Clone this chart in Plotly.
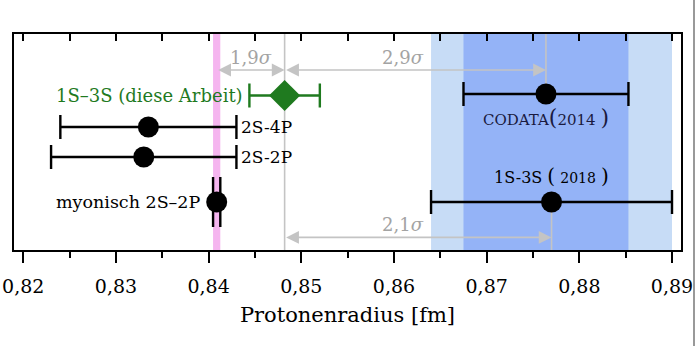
import plotly.graph_objects as go

# Proton radius determinations [fm]
labels = ["1S–3S (diese Arbeit)", "2S-4P", "2S-2P", "myonisch 2S–2P", "CODATA (2014)", "1S-3S (2018)"]
radius = [0.8482, 0.8335, 0.8330, 0.84087, 0.8764, 0.8770]
sigma = [0.0038, 0.0095, 0.0100, 0.00039, 0.0089, 0.0130]
row = [5.15, 4.1, 3.1, 1.6, 5.2, 1.6]

# discrepancy arrows: (from, to, text)
diff_from = [0.84087, 0.8482, 0.8482]
diff_to = [0.8482, 0.8764, 0.8770]
diff_text = ["1,9σ", "2,9σ", "2,1σ"]
diff_row = [6.0, 6.0, 0.42]
diff_label_x = [0.8446, 0.8610, 0.8610]

tick_vals = [0.82, 0.83, 0.84, 0.85, 0.86, 0.87, 0.88, 0.89]

FONT = "'DejaVu Serif', serif"
GRAY = "#c4c4c4"
GREEN = "#1f7a1f"

fig = go.Figure()

# background bands: 1S-3S (2018), CODATA (2014), muonic
fig.add_shape(type="rect", xref="x", yref="paper", layer="below",
              x0=radius[5] - sigma[5], x1=radius[5] + sigma[5], y0=0, y1=1,
              fillcolor="#c7dcf6", line_width=0)
fig.add_shape(type="rect", xref="x", yref="paper", layer="below",
              x0=radius[4] - sigma[4], x1=radius[4] + sigma[4], y0=0, y1=1,
              fillcolor="#94b3f7", line_width=0)
fig.add_shape(type="rect", xref="x", yref="paper", layer="below",
              x0=radius[3] - sigma[3], x1=radius[3] + sigma[3], y0=0, y1=1,
              fillcolor="#f5b5ef", line_width=0)

# gray reference lines
fig.add_shape(type="line", xref="x", yref="paper", layer="below",
              x0=radius[0], x1=radius[0], y0=0, y1=1, line=dict(color=GRAY, width=1.6))
fig.add_shape(type="line", xref="x", yref="y", layer="below",
              x0=radius[4], x1=radius[4], y0=row[4], y1=7.2, line=dict(color=GRAY, width=1.6))
fig.add_shape(type="line", xref="x", yref="y", layer="below",
              x0=radius[5], x1=radius[5], y0=0, y1=row[5], line=dict(color=GRAY, width=1.6))

# black measurements
for i in [1, 2, 4, 5]:
    fig.add_trace(go.Scatter(
        x=[radius[i]], y=[row[i]], mode="markers",
        marker=dict(symbol="circle", size=21, color="black"),
        error_x=dict(type="data", array=[sigma[i]], color="black", thickness=2.4, width=12),
        showlegend=False, hoverinfo="skip"))

# muonic measurement with tall caps
fig.add_trace(go.Scatter(
    x=[radius[3]], y=[row[3]], mode="markers",
    marker=dict(symbol="circle", size=21, color="black"),
    error_x=dict(type="data", array=[sigma[3]], color="black", thickness=2.4, width=25),
    showlegend=False, hoverinfo="skip"))

# this work
fig.add_trace(go.Scatter(
    x=[radius[0]], y=[row[0]], mode="markers",
    marker=dict(symbol="diamond", size=24, color=GREEN),
    error_x=dict(type="data", array=[sigma[0]], color=GREEN, thickness=2.4, width=12),
    showlegend=False, hoverinfo="skip"))

# discrepancy arrows and labels
for a, b, t, r, lx in zip(diff_from, diff_to, diff_text, diff_row, diff_label_x):
    fig.add_annotation(x=b, y=r, ax=a, ay=r, xref="x", yref="y", axref="x", ayref="y",
                       text="", showarrow=True, arrowside="end+start", arrowhead=2,
                       arrowsize=1.6, arrowwidth=1.6, arrowcolor=GRAY)
    fig.add_annotation(x=lx, y=r, yshift=13, xref="x", yref="y",
                       text=t.replace("σ", "<i>σ</i>"), showarrow=False,
                       font=dict(family=FONT, size=18, color="#a3a3a3"))

# measurement labels
fig.add_annotation(x=radius[0] - sigma[0], y=row[0], xref="x", yref="y", xanchor="right",
                   xshift=-4, text=labels[0], showarrow=False,
                   font=dict(family=FONT, size=18, color=GREEN))
for i in [1, 2]:
    fig.add_annotation(x=radius[i] + sigma[i], y=row[i], xref="x", yref="y", xanchor="left",
                       xshift=3, text=labels[i], showarrow=False,
                       font=dict(family=FONT, size=17, color="black"))
fig.add_annotation(x=radius[3], y=row[3], xref="x", yref="y", xanchor="right",
                   xshift=-14, text=labels[3], showarrow=False,
                   font=dict(family=FONT, size=17.5, color="black"))
fig.add_annotation(x=radius[4], y=4.43, xref="x", yref="y",
                   text="<span style='font-size:15px'>CODATA</span>"
                        "<span style='font-size:22px'>(</span>2014 <span style='font-size:22px'>)</span>",
                   showarrow=False, font=dict(family=FONT, size=15, color="#1a1a40"))
fig.add_annotation(x=radius[5], y=2.47, xref="x", yref="y",
                   text="1S-3S <span style='font-size:20px'>(</span> "
                        "<span style='font-size:14px'>2018</span> <span style='font-size:20px'>)</span>",
                   showarrow=False, font=dict(family=FONT, size=16, color="black"))

# right edge line of the figure
fig.add_shape(type="line", xref="paper", yref="paper",
              x0=(694 - 14) / 667, x1=(694 - 14) / 667, y0=-96 / 216, y1=34 / 216 + 1,
              line=dict(color="#555555", width=1.2))

fig.update_layout(
    width=698, height=346,
    margin=dict(l=14, r=17, t=34, b=96, autoexpand=False),
    paper_bgcolor="white", plot_bgcolor="white",
    separators=",.",
    font=dict(family=FONT, color="black"),
    xaxis=dict(range=[0.8190, 0.89097], tickvals=tick_vals, tickformat=".2f", automargin=False,
               ticks="outside", ticklen=11, tickwidth=1.8, tickcolor="black",
               ticklabelstandoff=7,
               minor=dict(dtick=0.005, ticks="outside", ticklen=6, tickwidth=1.8, tickcolor="black"),
               showline=True, linecolor="black", linewidth=2, mirror=True,
               showgrid=False, zeroline=False,
               tickfont=dict(family=FONT, size=19),
               title=dict(text="Protonenradius [fm]", font=dict(family=FONT, size=21), standoff=12)),
    xaxis2=dict(range=[0.8190, 0.89097], overlaying="x", side="top", matches="x", automargin=False,
                tickvals=tick_vals, ticks="inside", ticklen=7, tickwidth=1.8, tickcolor="black",
                minor=dict(dtick=0.005, ticks="inside", ticklen=7, tickwidth=1.8, tickcolor="black"),
                showticklabels=False, showgrid=False, zeroline=False),
    yaxis=dict(range=[0, 7.2], showticklabels=False, ticks="", showgrid=False, zeroline=False,
               automargin=False, showline=True, linecolor="black", linewidth=2, mirror=True),
)
# dummy trace so the top axis is drawn
fig.add_trace(go.Scatter(x=[None], y=[None], xaxis="x2", showlegend=False, hoverinfo="skip"))

fig.write_html("out.html")
